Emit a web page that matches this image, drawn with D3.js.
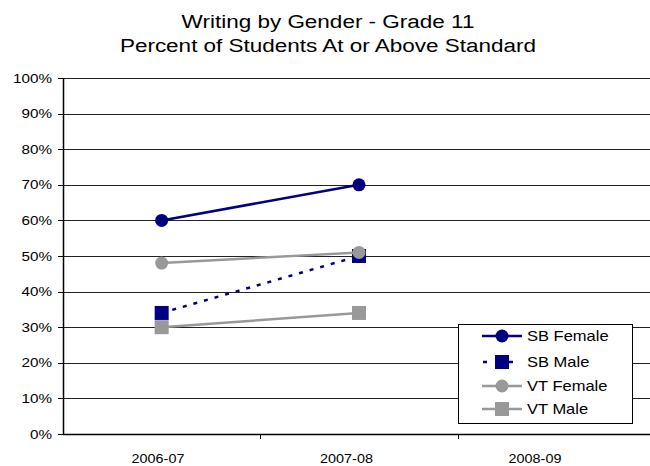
<!DOCTYPE html>
<html><head><meta charset="utf-8">
<script src="https://cdn.jsdelivr.net/npm/d3@7"></script>
<style>body{margin:0;background:#fff}svg{display:block;font-family:"Liberation Sans",Arial,sans-serif}</style>
</head><body><svg id="c" width="650" height="466"></svg>
<script>
const categories = ["2006-07","2007-08","2008-09"];
const sbFemale = [60,70];
const sbMale = [34,50];
const vtFemale = [48,51];
const vtMale = [30,34];
const yTicks = [0,10,20,30,40,50,60,70,80,90,100];
const titleLines = ["Writing by Gender - Grade 11","Percent of Students At or Above Standard"];

const series = [
  {name:"SB Female", values:sbFemale, color:"#000080", shape:"circle", dash:null},
  {name:"SB Male", values:sbMale, color:"#000080", shape:"square", dash:"4,7"},
  {name:"VT Female", values:vtFemale, color:"#999999", shape:"circle", dash:null},
  {name:"VT Male", values:vtMale, color:"#999999", shape:"square", dash:null}
];

const svg = d3.select("#c");
const L=63, R=655, T=78, B=434;
const x = d3.scaleBand().domain(categories).range([L,R]);
const xl = d3.scalePoint().domain(categories).range([158,535]);
const y = d3.scaleLinear().domain([0,100]).range([B,T]);

svg.selectAll("text.title").data(titleLines).enter().append("text")
  .attr("transform",(d,i)=>`translate(328,${28+i*24}) scale(1.25,1)`).attr("text-anchor","middle")
  .attr("font-size",18).attr("fill","#000").text(d=>d);

// grid
svg.append("g").selectAll("line").data(yTicks.filter(d=>d>0)).enter().append("line")
  .attr("x1",L).attr("x2",650).attr("y1",d=>Math.round(y(d))+0.5).attr("y2",d=>Math.round(y(d))+0.5)
  .attr("stroke","#222").attr("stroke-width",1);

// y axis
svg.append("line").attr("x1",L+0.5).attr("x2",L+0.5).attr("y1",T).attr("y2",B+1).attr("stroke","#000").attr("stroke-width",1.5);
svg.append("g").selectAll("line").data(yTicks).enter().append("line")
  .attr("x1",L-5).attr("x2",L).attr("y1",d=>Math.round(y(d))+0.5).attr("y2",d=>Math.round(y(d))+0.5).attr("stroke","#000");
svg.append("g").selectAll("text").data(yTicks).enter().append("text")
  .attr("transform",d=>`translate(52,${y(d)+4.5}) scale(1.27,1)`).attr("text-anchor","end")
  .attr("font-size",12).attr("fill","#000").text(d=>d+"%");

// x axis
svg.append("line").attr("x1",L).attr("x2",650).attr("y1",B+0.5).attr("y2",B+0.5).attr("stroke","#000").attr("stroke-width",1.5);
svg.append("g").selectAll("line").data(categories.slice(1)).enter().append("line")
  .attr("x1",d=>Math.round(x(d))+0.5).attr("x2",d=>Math.round(x(d))+0.5)
  .attr("y1",B).attr("y2",B+5).attr("stroke","#000");
svg.append("g").selectAll("text").data(categories).enter().append("text")
  .attr("transform",d=>`translate(${xl(d)},463) scale(1.2,1)`).attr("text-anchor","middle").attr("font-size",12).attr("fill","#000").text(d=>d);

const cx = i => x(categories[i]) + x.bandwidth()/2;
const line = d3.line().x((d,i)=>cx(i)).y(d=>y(d));

function marker(g, shape, color, px, py){
  if(shape==="circle") g.append("circle").attr("cx",px).attr("cy",py).attr("r",6.5).attr("fill",color);
  else g.append("rect").attr("x",px-7).attr("y",py-7).attr("width",14).attr("height",14).attr("fill",color);
}

const order = [3,1,2,0];
order.forEach(k=>{
  const s = series[k];
  const g = svg.append("g");
  g.append("path").attr("d",line(s.values)).attr("fill","none").attr("stroke",s.color)
    .attr("stroke-width",2.5).attr("stroke-dasharray",s.dash);
  s.values.forEach((v,i)=>marker(g,s.shape,s.color,cx(i),y(v)));
});

// legend
const lg = svg.append("g");
lg.append("rect").attr("x",458.5).attr("y",324.5).attr("width",174).attr("height",99)
  .attr("fill","#fff").attr("stroke","#000").attr("stroke-width",1);
const ly = [336,362,386,409];
series.forEach((s,i)=>{
  const g = lg.append("g");
  g.append("line").attr("x1",482).attr("x2",522).attr("y1",ly[i]).attr("y2",ly[i])
    .attr("stroke",s.color).attr("stroke-width",2.5).attr("stroke-dasharray",s.dash?"4,9":null)
    .attr("stroke-dashoffset",s.dash?-1:null);
  marker(g,s.shape,s.color,502,ly[i]);
  g.append("text").attr("transform",`translate(527,${ly[i]+5}) scale(1.18,1)`).attr("font-size",14).attr("fill","#000").text(s.name);
});
</script></body></html>
